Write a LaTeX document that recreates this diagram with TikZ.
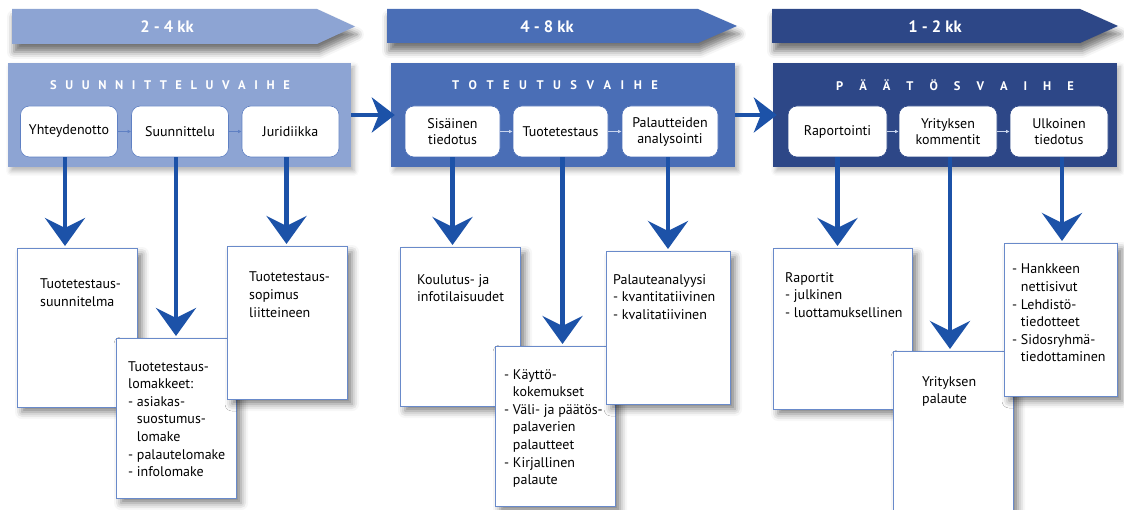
\documentclass[tikz,border=0pt]{standalone}
\usepackage{fontspec}
\setmainfont{PT Sans}
\usetikzlibrary{arrows.meta,shadows.blur}
\definecolor{cone}{RGB}{141,164,211}
\definecolor{ctwo}{RGB}{74,110,182}
\definecolor{cthree}{RGB}{45,71,135}
\definecolor{arrc}{RGB}{28,82,168}
\definecolor{bordc}{RGB}{105,138,202}
\definecolor{sarrA}{RGB}{95,128,195}
\definecolor{sarrB}{RGB}{200,212,238}
\newcommand\gp[1]{\hspace{#1}}
\newcommand\ind{\hphantom{-\ }}
\begin{document}
\begin{tikzpicture}[x=1pt,y=-1pt,
  phasebox/.style={rectangle, draw=none, inner sep=0pt, minimum height=104pt,
    blur shadow={shadow xshift=3pt, shadow yshift=-4pt, shadow blur radius=5pt, shadow opacity=30}},
  innerbox/.style={rectangle, rounded corners=9pt, fill=white, draw=bordc, line width=0.6pt,
    minimum width=97pt, minimum height=51pt, inner sep=1pt, align=center,
    font=\fontsize{14}{16}\selectfont},
  outbox/.style={rectangle, fill=white, draw=bordc, line width=1pt, inner sep=0pt,
    blur shadow={shadow xshift=5pt, shadow yshift=-5pt, shadow blur radius=7pt, shadow opacity=50}},
  txt/.style={anchor=north west, inner sep=0pt, align=left, font=\fontsize{14}{17.6}\selectfont},
  ttl/.style={text=white, inner sep=0pt, font=\bfseries\fontsize{12.5}{14}\selectfont},
  bantxt/.style={text=white, inner sep=0pt, font=\bfseries\fontsize{16.5}{18}\selectfont},
  banner/.style={blur shadow={shadow xshift=2pt, shadow yshift=-8pt, shadow blur radius=7pt, shadow opacity=55}},
  varr/.style={draw=arrc, line width=4.5pt, shorten >=3pt, -{Stealth[length=28pt,width=40pt,inset=10pt]}},
  harr/.style={draw=arrc, line width=4pt, shorten >=-4pt, -{Stealth[length=23pt,width=35pt,inset=7pt]}},
  smallarrA/.style={draw=sarrA, line width=0.8pt, -{Latex[length=3.5pt,width=3.5pt]}},
  smallarrB/.style={draw=sarrB, line width=0.8pt, -{Latex[length=3.5pt,width=3.5pt]}}
]
\useasboundingbox (0,0) rectangle (1124,510);

% banners
\fill[cone, banner] (12,9) -- (317,9) -- (355,26.5) -- (317,44) -- (12,44) -- cycle;
\fill[ctwo, banner] (387,9) -- (698,9) -- (737,26) -- (698,43) -- (387,43) -- cycle;
\fill[cthree, banner] (772,9) -- (1080,9) -- (1118,26) -- (1080,43) -- (772,43) -- cycle;
\node[bantxt] (k1) at (167,27) {2 - 4 kk};
\node[bantxt] (k2) at (547,27) {4 - 8 kk};
\node[bantxt] (k3) at (935,27) {1 - 2 kk};

% phase boxes
\node[phasebox, fill=cone, minimum width=343pt] (p1) at (179.5,115) {};
\node[phasebox, fill=ctwo, minimum width=344pt] (p2) at (563,115) {};
\node[phasebox, fill=cthree, minimum width=344pt] (p3) at (945,115) {};

\node[ttl] (t1) at (170,85) {S\gp{8.6pt}U\gp{8.6pt}U\gp{8.6pt}N\gp{8.6pt}N\gp{8.6pt}I\gp{8.6pt}T\gp{8.6pt}T\gp{8.6pt}E\gp{8.6pt}L\gp{8.6pt}U\gp{8.6pt}V\gp{8.6pt}A\gp{8.6pt}I\gp{8.6pt}H\gp{8.6pt}E};
\node[ttl] (t2) at (555,85) {T\gp{9.5pt}O\gp{9.5pt}T\gp{9.5pt}E\gp{9.5pt}U\gp{9.5pt}T\gp{9.5pt}U\gp{9.5pt}S\gp{9.5pt}V\gp{9.5pt}A\gp{9.5pt}I\gp{9.5pt}H\gp{9.5pt}E};
\node[ttl] (t3) at (955,85) {P\gp{16pt}Ä\gp{16pt}Ä\gp{16pt}T\gp{16pt}Ö\gp{16pt}S\gp{16pt}V\gp{16pt}A\gp{16pt}I\gp{16pt}H\gp{16pt}E};

% inner boxes
\node[innerbox, draw=sarrA] (yht) at (69,131.5) {Yhteydenotto};
\node[innerbox, draw=sarrA] (suu) at (180,131.5) {Suunnittelu};
\node[innerbox, draw=sarrA] (jur) at (290.5,131.5) {Juridiikka};
\node[innerbox, draw=ctwo, minimum width=95pt] (sis) at (452.5,131.5) {Sisäinen\\tiedotus};
\node[innerbox, draw=ctwo, minimum width=95pt] (tuo) at (560.5,131.5) {Tuotetestaus};
\node[innerbox, draw=ctwo, minimum width=96pt] (pal) at (670,131.5) {Palautteiden\\analysointi};
\node[innerbox, draw=cthree, minimum width=99pt] (rap) at (837.5,131.5) {Raportointi};
\node[innerbox, draw=cthree, minimum width=98pt] (yri) at (948,131.5) {Yrityksen\\kommentit};
\node[innerbox, draw=cthree, minimum width=98pt] (ulk) at (1059,131.5) {Ulkoinen\\tiedotus};

\draw[smallarrA] (yht) -- (suu);
\draw[smallarrA] (suu) -- (jur);
\draw[smallarrB] (sis) -- (tuo);
\draw[smallarrB] (tuo) -- (pal);
\draw[smallarrB] (rap) -- (yri);
\draw[smallarrB] (yri) -- (ulk);

% phase arrows
\draw[harr] (p1.east) -- (p2.west);
\draw[harr] (p2.east) -- (p3.west);

% output box corners
\path (17,249) coordinate (b11a) (137,407) coordinate (b11b)
      (116,339) coordinate (b12a) (236,498) coordinate (b12b)
      (227,247) coordinate (b13a) (347,399) coordinate (b13b)
      (400,248) coordinate (b21a) (520,406) coordinate (b21b)
      (495,347) coordinate (b22a) (615,506) coordinate (b22b)
      (606,252) coordinate (b23a) (730,404) coordinate (b23b)
      (773,249) coordinate (b31a) (912,409) coordinate (b31b)
      (893,352) coordinate (b32a) (1013,530) coordinate (b32b)
      (1004,244) coordinate (b33a) (1117,396) coordinate (b33b);

% vertical arrows
\draw[varr] ([xshift=-4pt]yht.south) -- ([xshift=-4pt]yht.south |- b11a);
\draw[varr] ([xshift=-4pt]suu.south) -- ([xshift=-4pt]suu.south |- b12a);
\draw[varr] ([xshift=-4pt]jur.south) -- ([xshift=-4pt]jur.south |- b13a);
\draw[varr] (sis.south) -- (sis.south |- b21a);
\draw[varr] ([xshift=2pt]tuo.south) -- ([xshift=2pt]tuo.south |- b22a);
\draw[varr] ([xshift=-2pt]pal.south) -- ([xshift=-2pt]pal.south |- b23a);
\draw[varr] (rap.south) -- (rap.south |- b31a);
\draw[varr] ([xshift=2pt]yri.south) -- ([xshift=2pt]yri.south |- b32a);
\draw[varr] ([xshift=3pt]ulk.south) -- ([xshift=3pt]ulk.south |- b33a);

% column 1
\draw[outbox] (b11a) rectangle (b11b);
\node[txt] (x11) at ([xshift=23pt,yshift=-30pt]b11a) {Tuotetestaus-\\suunnitelma};
\draw[outbox] (b12a) rectangle (b12b);
\node[txt] (x12) at ([xshift=12pt,yshift=-22pt]b12a) {Tuotetestaus-\\lomakkeet:\\- asiakas-\\\ind suostumus-\\\ind lomake\\- palautelomake\\- infolomake};
\draw[outbox] (b13a) rectangle (b13b);
\node[txt] (x13) at ([xshift=22pt,yshift=-25pt]b13a) {Tuotetestaus-\\sopimus\\liitteineen};

% column 2
\draw[outbox] (b21a) rectangle (b21b);
\node[txt] (x21) at ([xshift=17pt,yshift=-26pt]b21a) {Koulutus- ja\\infotilaisuudet};
\draw[outbox] (b22a) rectangle (b22b);
\node[txt] (x22) at ([xshift=9pt,yshift=-22pt]b22a) {- Käyttö-\\\ind kokemukset\\- Väli- ja päätös-\\\ind palaverien\\\ind palautteet\\- Kirjallinen\\\ind palaute};
\draw[outbox] (b23a) rectangle (b23b);
\node[txt] (x23) at ([xshift=7pt,yshift=-22pt]b23a) {Palauteanalyysi\\- kvantitatiivinen\\- kvalitatiivinen};

% column 3
\draw[outbox] (b31a) rectangle (b31b);
\node[txt] (x31) at ([xshift=12pt,yshift=-23pt]b31a) {Raportit\\- julkinen\\- luottamuksellinen};
\draw[outbox] (b32a) rectangle (b32b);
\node[txt] (x32) at ([xshift=29pt,yshift=-24pt]b32a) {Yrityksen\\palaute};
\draw[outbox] (b33a) rectangle (b33b);
\node[txt] (x33) at ([xshift=8pt,yshift=-20pt]b33a) {- Hankkeen\\\ind nettisivut\\- Lehdistö-\\\ind tiedotteet\\- Sidosryhmä-\\\ind tiedottaminen};
\end{tikzpicture}
\end{document}
